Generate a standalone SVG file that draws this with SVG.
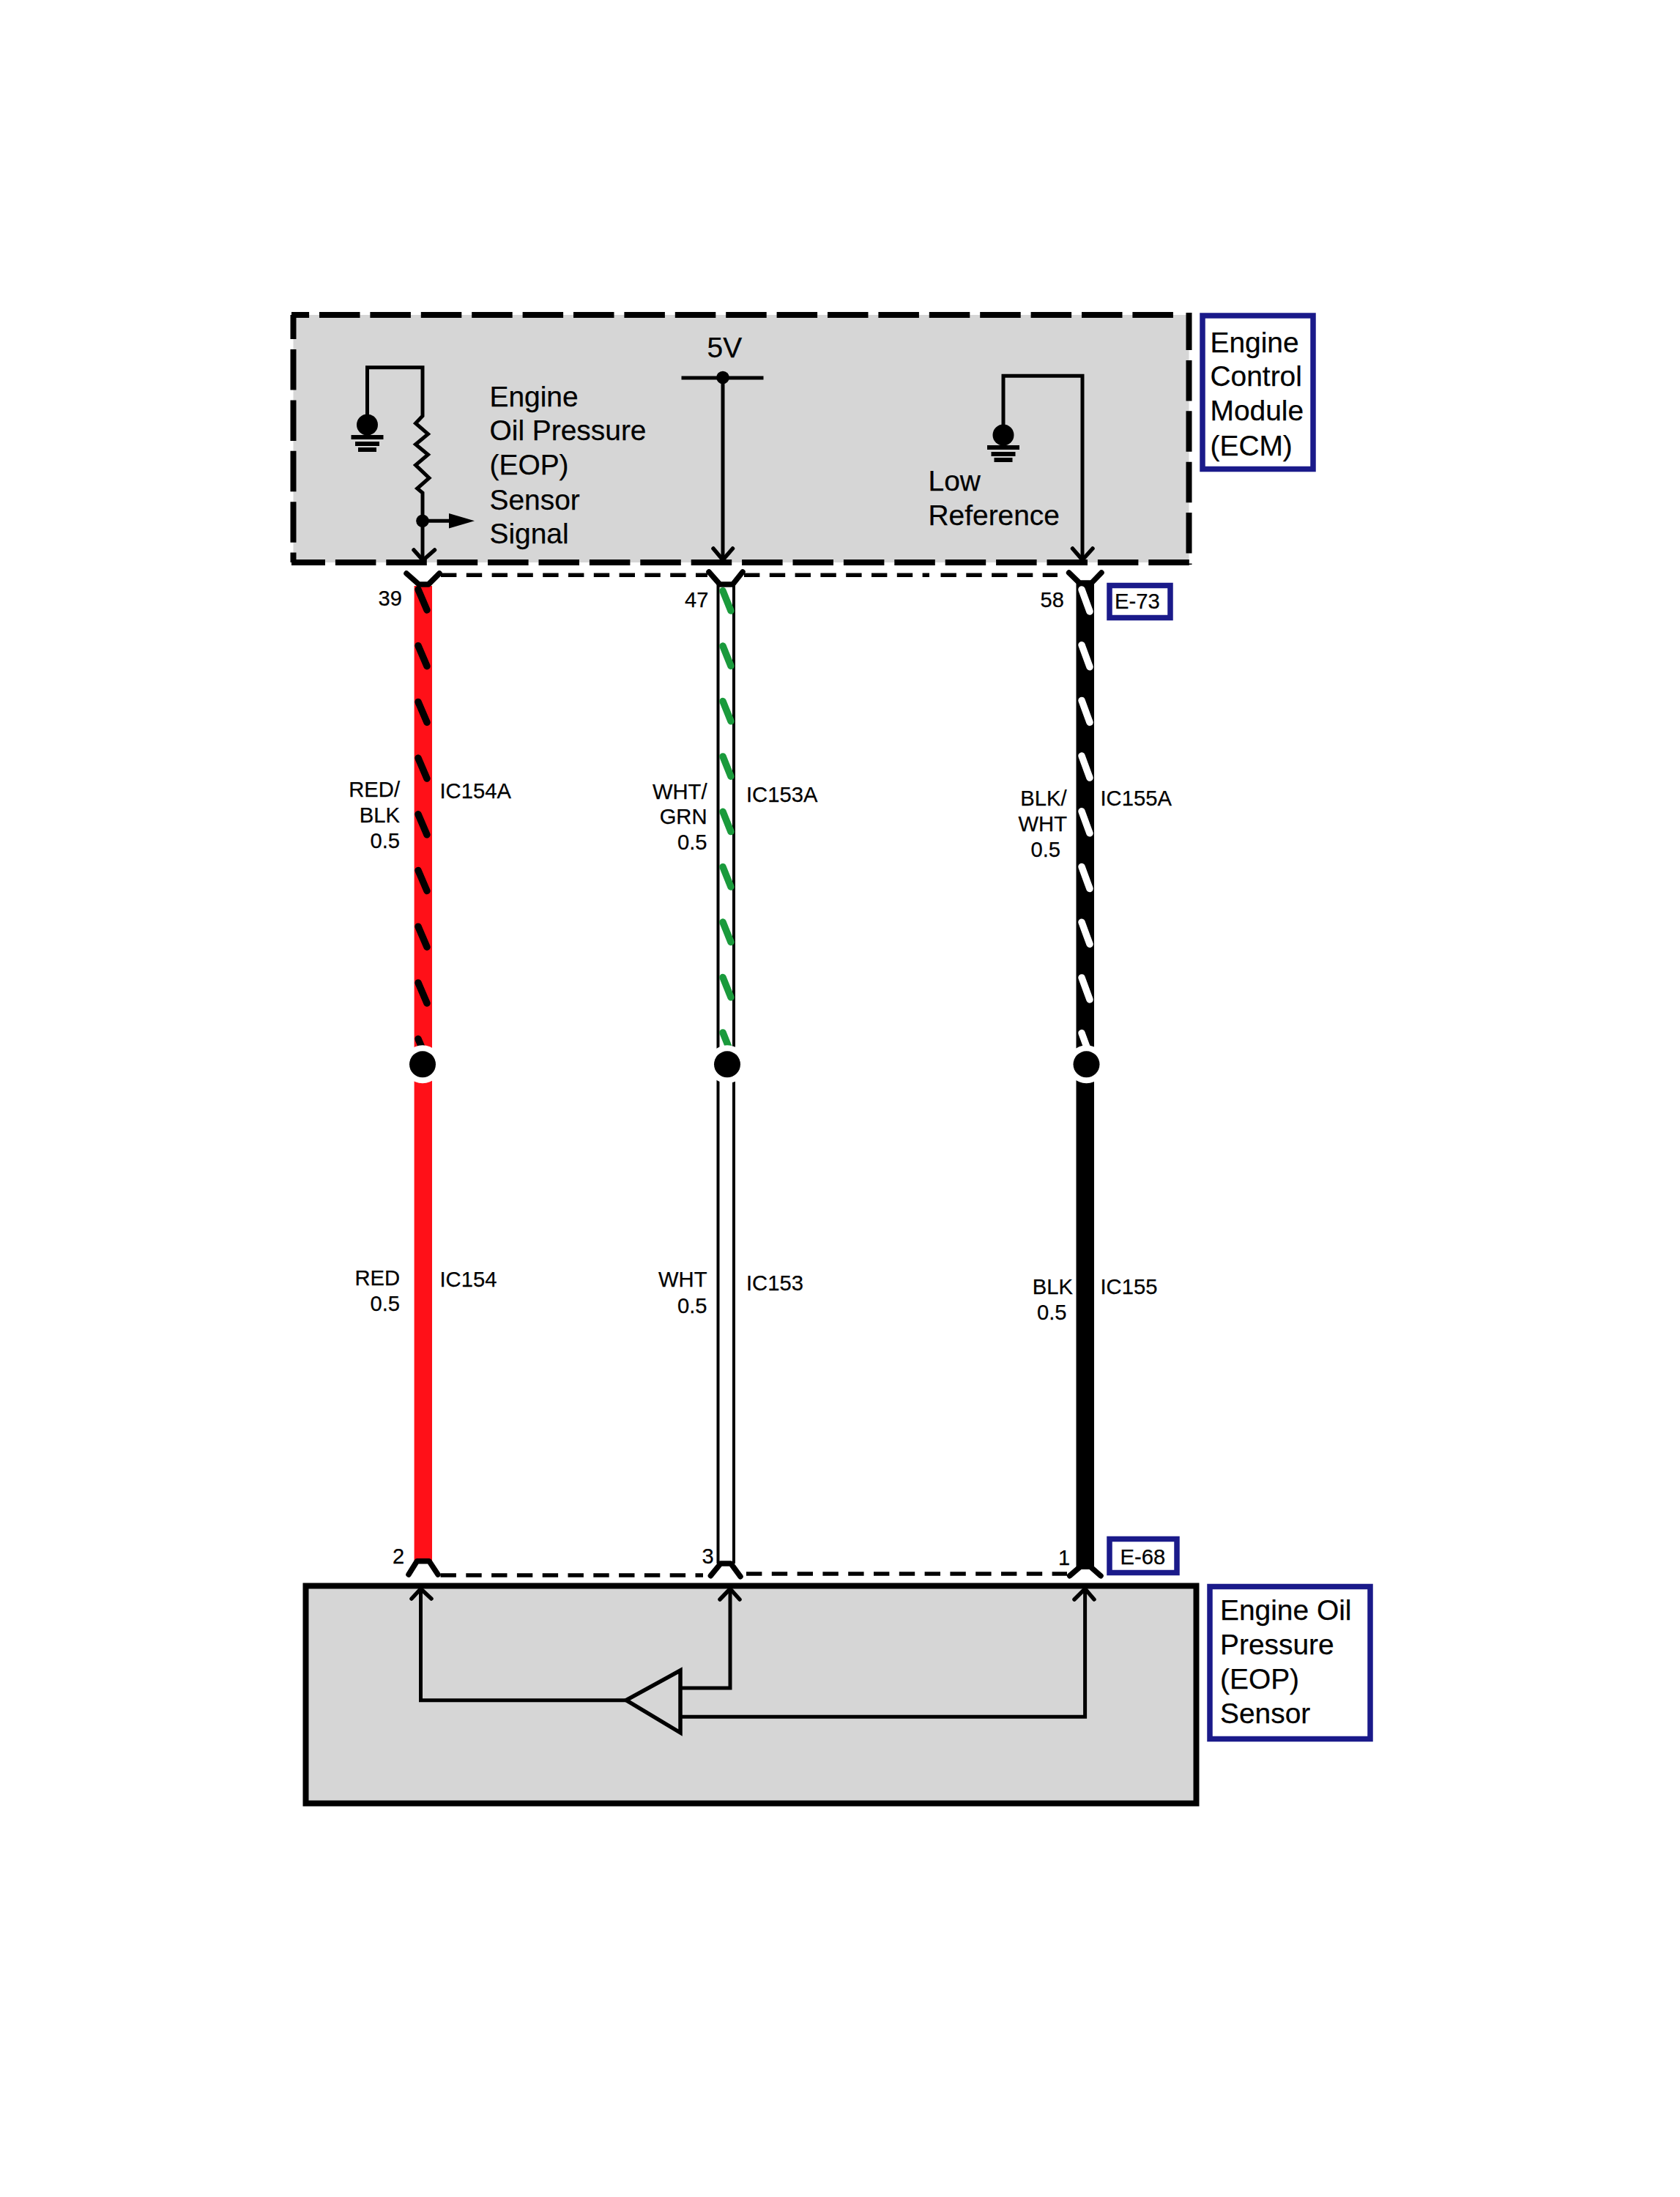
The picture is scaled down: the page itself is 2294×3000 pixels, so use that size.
<svg xmlns="http://www.w3.org/2000/svg" xmlns:xlink="http://www.w3.org/1999/xlink" width="2294" height="3000" viewBox="0 0 2294 3000">
<style>
text{font-family:"Liberation Sans",Arial,sans-serif;fill:#000;stroke:#000;stroke-width:.25}
.big{font-size:38.9px}
.sm{font-size:29.2px}
.pin{font-size:29px}
.end{text-anchor:end}
.w{fill:none;stroke:#000;stroke-width:5;stroke-linecap:square;stroke-linejoin:miter}
.ah{fill:none;stroke:#000;stroke-width:5.5;stroke-linecap:round;stroke-linejoin:round}
.y{fill:none;stroke:#000;stroke-width:7.5;stroke-linecap:round;stroke-linejoin:round}
.dash{fill:none;stroke:#000;stroke-width:8;stroke-dasharray:55.5 13.9}
.cd{fill:none;stroke:#000;stroke-width:5.5;stroke-dasharray:21.4 13.4}
.lab{fill:#fff;stroke:#1a1a8a;stroke-width:7.5}
.st{stroke-linecap:round;stroke-width:9.5;fill:none}
.halo{fill:#fff}
.dot{fill:#000}
</style>
<defs>
<g id="gnd">
<circle cx="0" cy="0" r="14.5"/>
<rect x="-22" y="14" width="44" height="6"/>
<rect x="-16.500" y="23" width="33" height="6"/>
<rect x="-12.500" y="31" width="25" height="6"/>
</g>
</defs>
<rect width="2294" height="3000" fill="#fff"/>

<g id="ecm">
<rect x="400.500" y="430" width="1223" height="338" fill="#d6d6d6"/>
<path class="dash" d="M398 430H1604" stroke-dashoffset="31.400"/>
<path class="dash" d="M400.500 430V768" stroke-dashoffset="22.400"/>
<path class="dash" d="M398 768H1626" stroke-dashoffset="9.500"/>
<path class="dash" d="M1623.500 427V771" stroke-dashoffset="4.500"/>
</g>

<g id="ecm-circuit">
<path class="w" d="M501.500 580V501.700H577V568L567.500 578L584.500 592.700L567.500 606.700L584.500 620.700L567.500 635L586 652.700L569.700 667L577 673V764"/>
<use xlink:href="#gnd" href="#gnd" x="501.500" y="580"/>
<circle class="dot" cx="577" cy="711.300" r="8.800"/>
<path class="w" d="M577 711.300H615"/>
<path d="M613 701V721.500L648 711.300Z"/>
<path class="ah" d="M565 751L577.500 765L593.500 751"/>
<path class="w" d="M933 516H1040"/>
<path class="w" d="M987 516V764"/>
<circle class="dot" cx="987" cy="515.500" r="8.800"/>
<path class="ah" d="M974 749L987 764.500L1000.500 749"/>
<path class="w" d="M1370 594V513.300H1478V764"/>
<use xlink:href="#gnd" href="#gnd" x="1370" y="594"/>
<path class="ah" d="M1464.500 749L1478 764.500L1492 749"/>
</g>

<g id="ecm-texts">
<text class="big" x="965.500" y="488">5V</text>
<text class="big" x="668.500" y="554.500">Engine</text>
<text class="big" x="668.500" y="601">Oil Pressure</text>
<text class="big" x="668.500" y="648">(EOP)</text>
<text class="big" x="668.500" y="695.500">Sensor</text>
<text class="big" x="668.500" y="742">Signal</text>
<text class="big" x="1267.500" y="670">Low</text>
<text class="big" x="1267.500" y="716.700">Reference</text>
</g>

<g id="ecm-label">
<rect class="lab" x="1642" y="431" width="151" height="209.500"/>
<text class="big" x="1652.500" y="480.500">Engine</text>
<text class="big" x="1652.500" y="527">Control</text>
<text class="big" x="1652.500" y="574.300">Module</text>
<text class="big" x="1652.500" y="622">(ECM)</text>
</g>

<g id="e73">
<rect class="lab" x="1515" y="799.500" width="83" height="44"/>
<text class="sm" x="1522" y="831">E-73</text>
</g>

<g id="sensor">
<rect x="417.500" y="2165.500" width="1216" height="297" fill="#d6d6d6" stroke="#000" stroke-width="8"/>
<path class="w" d="M574.500 2172V2321.700H855"/>
<path d="M929 2281L855 2321.700L929 2366Z" fill="#d6d6d6" stroke="#000" stroke-width="5.500"/>
<path class="w" d="M931 2305H997V2172"/>
<path class="w" d="M931 2344.300H1481.600V2172"/>
<path class="ah" d="M562 2183L574.500 2169.500L589 2183"/>
<path class="ah" d="M983 2184L997 2169.500L1010 2184"/>
<path class="ah" d="M1467 2184L1481.600 2169.500L1494 2184"/>
</g>

<g id="sensor-label">
<rect class="lab" x="1652" y="2166.500" width="219" height="208"/>
<text class="big" x="1666" y="2211.500">Engine Oil</text>
<text class="big" x="1666" y="2258.500">Pressure</text>
<text class="big" x="1666" y="2305.500">(EOP)</text>
<text class="big" x="1666" y="2353">Sensor</text>
</g>

<g id="e68">
<rect class="lab" x="1515" y="2101.500" width="92" height="46"/>
<text class="sm" x="1529.500" y="2135.500">E-68</text>
</g>

<g id="connectors">
<path class="cd" d="M602 785.300H966"/>
<path class="cd" d="M1016 785.300H1269"/>
<path class="cd" d="M1284.500 785.300H1444"/>
<path class="cd" d="M601.500 2151H960"/>
<path class="cd" d="M1019 2149H1457"/>

<rect x="565.600" y="800" width="24.400" height="1332" fill="#ff1018"/>
<path d="M980.500 798V2135M1002 798V2135" fill="none" stroke="#000" stroke-width="4"/>
<rect x="1469.500" y="795" width="24.500" height="1345"/>

<g id="stripes-red" class="st" stroke="#000">
<path d="M571 805L583 833"/><path d="M571 881.700L583 909.700"/><path d="M571 958.400L583 986.400"/><path d="M571 1035.100L583 1063.100"/><path d="M571 1111.800L583 1139.800"/><path d="M571 1188.500L583 1216.500"/><path d="M571 1265.200L583 1293.200"/><path d="M571 1341.900L583 1369.900"/><path d="M571 1418.600L583 1446.600"/>
</g>
<g id="stripes-green" class="st" stroke="#1a9a3c">
<path d="M987 806.700L998 834"/><path d="M987 882.100L998 909.400"/><path d="M987 957.500L998 984.800"/><path d="M987 1032.900L998 1060.200"/><path d="M987 1108.300L998 1135.600"/><path d="M987 1183.700L998 1211"/><path d="M987 1259.100L998 1286.400"/><path d="M987 1334.500L998 1361.800"/><path d="M987 1409.900L998 1437.200"/>
</g>
<g id="stripes-white" class="st" stroke="#fff">
<path d="M1477 805L1488 835"/><path d="M1477 880.700L1488 910.700"/><path d="M1477 956.400L1488 986.400"/><path d="M1477 1032.100L1488 1062.100"/><path d="M1477 1107.800L1488 1137.800"/><path d="M1477 1183.500L1488 1213.500"/><path d="M1477 1259.200L1488 1289.200"/><path d="M1477 1334.900L1488 1364.900"/><path d="M1477 1410.600L1488 1440.600"/>
</g>

<circle class="halo" cx="577" cy="1453.300" r="26"/>
<circle class="halo" cx="993" cy="1453.300" r="26"/>
<circle class="halo" cx="1483.500" cy="1453.300" r="26"/>
<circle class="dot" cx="577" cy="1453.300" r="18"/>
<circle class="dot" cx="993" cy="1453.300" r="18"/>
<circle class="dot" cx="1483.500" cy="1453.300" r="18"/>

<path class="y" d="M555 783L572 798H585L600 783"/>
<path class="y" d="M968 781L983 798H1000.500L1014 781"/>
<path class="y" d="M1459.600 782L1474 796H1490.500L1504 782"/>
<path class="y" d="M558 2150L569.400 2131.700H586L598 2150"/>
<path class="y" d="M970.400 2151.700L984 2135H998L1011 2152.700"/>
<path class="y" d="M1460.700 2151.700L1475 2139.300H1488.800L1503 2151.700"/>
</g>

<g id="wire-labels">
<text class="pin" x="516.500" y="826.700">39</text>
<text class="pin" x="935" y="829.300">47</text>
<text class="pin" x="1420.500" y="829.300">58</text>
<text class="pin" x="536" y="2135">2</text>
<text class="pin" x="958.500" y="2135">3</text>
<text class="pin" x="1445" y="2137">1</text>

<text class="sm end" x="546" y="1088.300">RED/</text>
<text class="sm end" x="546" y="1123.300">BLK</text>
<text class="sm end" x="546" y="1158.300">0.5</text>
<text class="sm" x="600.500" y="1090">IC154A</text>
<text class="sm end" x="965.500" y="1090.700">WHT/</text>
<text class="sm end" x="965.500" y="1125">GRN</text>
<text class="sm end" x="965.500" y="1160">0.5</text>
<text class="sm" x="1019" y="1095">IC153A</text>
<text class="sm end" x="1456.500" y="1100">BLK/</text>
<text class="sm end" x="1457" y="1135">WHT</text>
<text class="sm end" x="1448" y="1170">0.5</text>
<text class="sm" x="1502.500" y="1100">IC155A</text>

<text class="sm end" x="546" y="1755">RED</text>
<text class="sm end" x="546" y="1790">0.5</text>
<text class="sm" x="600.500" y="1757.300">IC154</text>
<text class="sm end" x="965.500" y="1757.300">WHT</text>
<text class="sm end" x="965.500" y="1792.700">0.5</text>
<text class="sm" x="1019" y="1761.700">IC153</text>
<text class="sm end" x="1465" y="1766.700">BLK</text>
<text class="sm end" x="1456.500" y="1801.700">0.5</text>
<text class="sm" x="1502.500" y="1766.700">IC155</text>
</g>
</svg>
